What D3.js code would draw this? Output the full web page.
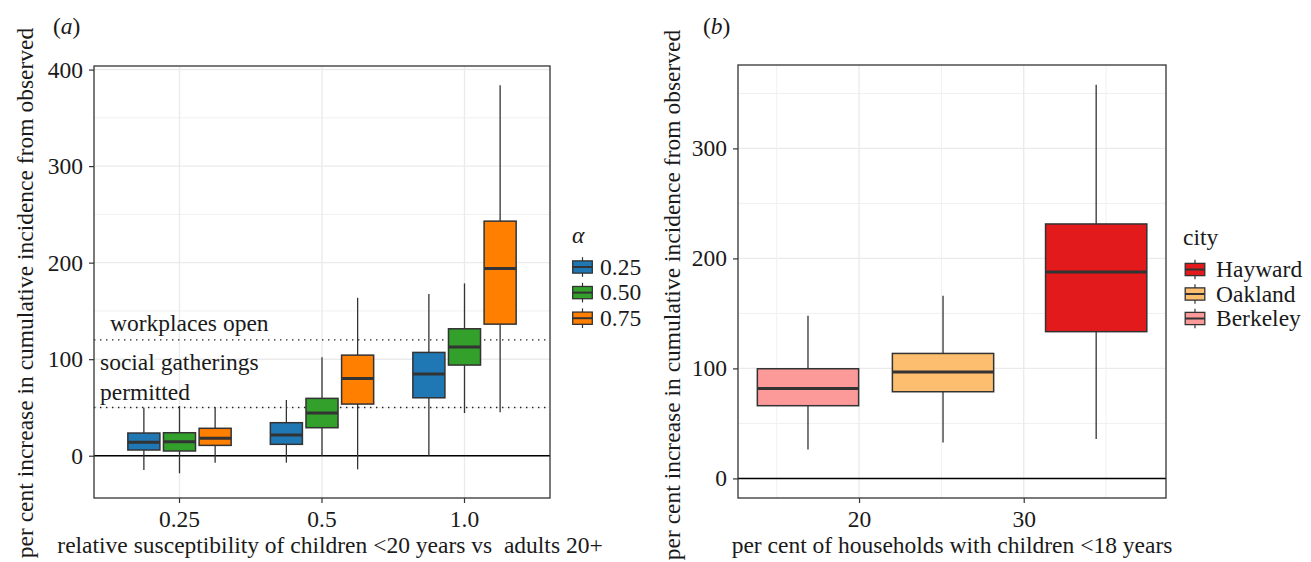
<!DOCTYPE html>
<html>
<head>
<meta charset="utf-8">
<script src="https://cdn.jsdelivr.net/npm/d3@7"></script>
<style>
  body { margin: 0; background: #fff; }
</style>
</head>
<body>
<svg id="paper" width="1311" height="562"></svg>
<script>
// panel (a) data: five number summaries per alpha, one entry per susceptibility
var suscCategories = ["0.25", "0.5", "1.0"];
var alphaLevels = ["0.25", "0.50", "0.75"];
var alphaColors = ["#1f78b4", "#33a02c", "#ff7f00"];
// [lower whisker, q1, median, q3, upper whisker]
var alpha025 = [[-14.8, 5.9, 13.9, 23.5, 49.7], [-7.2, 11.8, 21.4, 34.2, 57.7], [0, 60, 84.6, 107, 167.4]];
var alpha050 = [[-18.2, 4.9, 14.5, 23.8, 51.4], [0, 29, 44.2, 59.4, 101.9], [44.2, 93.9, 112.5, 131.5, 178.5]];
var alpha075 = [[-7.2, 10.7, 18, 28.4, 50.1], [-14.1, 53.5, 80.1, 104.2, 163.6], [44.9, 136.3, 194, 243, 383.7]];
var thresholds = [50, 120];
var yTicksA = [0, 100, 200, 300, 400];
var yMinorA = [50, 150, 250, 350];

// panel (b) data
var cities = ["Hayward", "Oakland", "Berkeley"];
var cityColors = ["#e31a1c", "#fdbf6f", "#fb9a99"];
var cityHouseholdPct = [34.4, 25.1, 16.9];
var cityStats = [[35.8, 133.4, 187.6, 231.3, 357.9], [32.7, 78.8, 96.7, 113.6, 166.1], [26.4, 66.1, 81.8, 99.7, 147.9]];
var xTicksB = [20, 30];
var xMinorB = [15, 25, 35];
var yTicksB = [0, 100, 200, 300];
var yMinorB = [50, 150, 250, 350];

var yTitle = "per cent increase in cumulative incidence from observed";
var serif = "'Liberation Serif', Tinos, 'Times New Roman', serif";
var fontSize = "23.5px";
var dark = "#333333";

var svg = d3.select("#paper");

// every text goes through here so the font is set inline
function label(parent, x, y, str) {
    return parent.append("text").attr("x", x).attr("y", y)
        .style("font-family", serif).style("font-size", fontSize).style("fill", "#1a1a1a")
        .text(str);
}

function drawBox(g, cx, w, s, y, fill) {
    g.append("line").attr("x1", cx).attr("x2", cx).attr("y1", y(s[0])).attr("y2", y(s[1]))
        .attr("stroke", dark).attr("stroke-width", 1.3);
    g.append("line").attr("x1", cx).attr("x2", cx).attr("y1", y(s[3])).attr("y2", y(s[4]))
        .attr("stroke", dark).attr("stroke-width", 1.3);
    g.append("rect").attr("x", cx - w / 2).attr("y", y(s[3]))
        .attr("width", w).attr("height", y(s[1]) - y(s[3]))
        .attr("fill", fill).attr("stroke", dark).attr("stroke-width", 1.5);
    g.append("line").attr("x1", cx - w / 2).attr("x2", cx + w / 2).attr("y1", y(s[2])).attr("y2", y(s[2]))
        .attr("stroke", dark).attr("stroke-width", 3);
}

function drawKey(g, cx, cy, fill) {
    var k = 24.5;
    g.append("line").attr("x1", cx).attr("x2", cx).attr("y1", cy - 0.4 * k).attr("y2", cy + 0.4 * k)
        .attr("stroke", dark).attr("stroke-width", 1.2);
    g.append("rect").attr("x", cx - 0.4 * k).attr("y", cy - 0.25 * k)
        .attr("width", 0.8 * k).attr("height", 0.5 * k)
        .attr("fill", fill).attr("stroke", dark).attr("stroke-width", 1.3);
    g.append("line").attr("x1", cx - 0.4 * k).attr("x2", cx + 0.4 * k).attr("y1", cy).attr("y2", cy)
        .attr("stroke", dark).attr("stroke-width", 2);
}

function gridAndFrame(g, box, y, majors, minors, xs) {
    minors.forEach(function (v) {
        g.append("line").attr("x1", box.x0).attr("x2", box.x1).attr("y1", y(v)).attr("y2", y(v))
            .attr("stroke", "#f0f0f0").attr("stroke-width", 1);
    });
    majors.forEach(function (v) {
        g.append("line").attr("x1", box.x0).attr("x2", box.x1).attr("y1", y(v)).attr("y2", y(v))
            .attr("stroke", "#ebebeb").attr("stroke-width", 1.4);
    });
    xs.forEach(function (d) {
        g.append("line").attr("x1", d.x).attr("x2", d.x).attr("y1", box.y0).attr("y2", box.y1)
            .attr("stroke", d.minor ? "#f0f0f0" : "#ebebeb").attr("stroke-width", d.minor ? 1 : 1.4);
    });
}

function styleAxis(sel) {
    sel.attr("font-family", null).attr("font-size", null);
    sel.select(".domain").remove();
    sel.selectAll(".tick line").attr("stroke", dark).attr("stroke-width", 1.2);
    sel.selectAll(".tick text")
        .style("font-family", serif).style("font-size", fontSize).attr("fill", "#1a1a1a");
}

// kept inside the page so none of it is cut off
function yAxisTitle(x, yMid) {
    label(svg, 0, 0, yTitle)
        .attr("transform", "translate(" + x + "," + yMid + ") rotate(-90)")
        .attr("text-anchor", "middle");
}

function panelLabel(x, y, letter) {
    var t = label(svg, x, y, null);
    t.append("tspan").text("(");
    t.append("tspan").style("font-style", "italic").text(letter);
    t.append("tspan").text(")");
}

// ---------- panel (a)
var boxA = { x0: 94, x1: 550, y0: 66, y1: 498 };
var xA = d3.scaleBand().domain(suscCategories).range([boxA.x0, boxA.x1]).paddingInner(0).paddingOuter(0.1);
var yA = d3.scaleLinear().domain([-43.8, 403.7]).range([boxA.y1, boxA.y0]);
var gA = svg.append("g");

gridAndFrame(gA, boxA, yA, yTicksA, yMinorA, suscCategories.map(function (c) {
    return { x: xA(c) + xA.bandwidth() / 2, minor: false };
}));

thresholds.forEach(function (v) {
    gA.append("line").attr("x1", boxA.x0).attr("x2", boxA.x1).attr("y1", yA(v)).attr("y2", yA(v))
        .attr("stroke", "#222").attr("stroke-width", 1.4).attr("stroke-dasharray", "1.4,4.6");
});

gA.append("line").attr("x1", boxA.x0).attr("x2", boxA.x1).attr("y1", yA(0)).attr("y2", yA(0))
    .attr("stroke", "#000").attr("stroke-width", 1.5);

var alphaSeries = [alpha025, alpha050, alpha075];
suscCategories.forEach(function (c, ci) {
    var center = xA(c) + xA.bandwidth() / 2;
    var dodge = d3.scaleBand().domain(alphaLevels)
        .range([center - 0.375 * xA.step(), center + 0.375 * xA.step()]);
    alphaLevels.forEach(function (a, ai) {
        drawBox(gA, dodge(a) + dodge.bandwidth() / 2, dodge.bandwidth() * 0.9,
            alphaSeries[ai][ci], yA, alphaColors[ai]);
    });
});

label(gA, 110, 331, "workplaces open");
label(gA, 100, 370, "social gatherings");
label(gA, 100, 400, "permitted");

gA.append("rect").attr("x", boxA.x0).attr("y", boxA.y0)
    .attr("width", boxA.x1 - boxA.x0).attr("height", boxA.y1 - boxA.y0)
    .attr("fill", "none").attr("stroke", dark).attr("stroke-width", 1.3);

svg.append("g").attr("transform", "translate(" + boxA.x0 + ",0)")
    .call(d3.axisLeft(yA).tickValues(yTicksA).tickSize(5).tickPadding(6))
    .call(styleAxis);
svg.append("g").attr("transform", "translate(0," + boxA.y1 + ")")
    .call(d3.axisBottom(xA).tickSize(5).tickPadding(7))
    .call(styleAxis);

label(svg, 330, 553, "relative susceptibility of children <20 years vs  adults 20+")
    .attr("text-anchor", "middle").style("white-space", "pre");
yAxisTitle(33, 293);
panelLabel(53, 34, "a");

// legend (a)
label(svg, 572, 243, "α").style("font-style", "italic");
alphaLevels.forEach(function (a, i) {
    var cy = 267 + i * 25.6;
    drawKey(svg, 582.5, cy, alphaColors[i]);
    label(svg, 600, cy + 7.5, a);
});

// ---------- panel (b)
var boxB = { x0: 738, x1: 1166, y0: 65, y1: 498 };
var xB = d3.scaleLinear().domain([12.65, 38.64]).range([boxB.x0, boxB.x1]);
var yB = d3.scaleLinear().domain([-17.8, 375.8]).range([boxB.y1, boxB.y0]);
var gB = svg.append("g");

gridAndFrame(gB, boxB, yB, yTicksB, yMinorB,
    xMinorB.map(function (v) { return { x: xB(v), minor: true }; })
        .concat(xTicksB.map(function (v) { return { x: xB(v), minor: false }; })));

gB.append("line").attr("x1", boxB.x0).attr("x2", boxB.x1).attr("y1", yB(0)).attr("y2", yB(0))
    .attr("stroke", "#000").attr("stroke-width", 1.5);

var boxWidthB = xB(6.15) - xB(0);
cities.forEach(function (c, i) {
    drawBox(gB, xB(cityHouseholdPct[i]), boxWidthB, cityStats[i], yB, cityColors[i]);
});

gB.append("rect").attr("x", boxB.x0).attr("y", boxB.y0)
    .attr("width", boxB.x1 - boxB.x0).attr("height", boxB.y1 - boxB.y0)
    .attr("fill", "none").attr("stroke", dark).attr("stroke-width", 1.3);

svg.append("g").attr("transform", "translate(" + boxB.x0 + ",0)")
    .call(d3.axisLeft(yB).tickValues(yTicksB).tickSize(5).tickPadding(6))
    .call(styleAxis);
svg.append("g").attr("transform", "translate(0," + boxB.y1 + ")")
    .call(d3.axisBottom(xB).tickValues(xTicksB).tickSize(5).tickPadding(7))
    .call(styleAxis);

label(svg, (boxB.x0 + boxB.x1) / 2, 553, "per cent of households with children <18 years")
    .attr("text-anchor", "middle");
yAxisTitle(680, 295);
panelLabel(703, 34, "b");

// legend (b)
label(svg, 1183, 245, "city");
cities.forEach(function (c, i) {
    var cy = 269.5 + i * 24.5;
    drawKey(svg, 1195, cy, cityColors[i]);
    label(svg, 1216, cy + 7.5, c);
});
</script>
</body>
</html>
